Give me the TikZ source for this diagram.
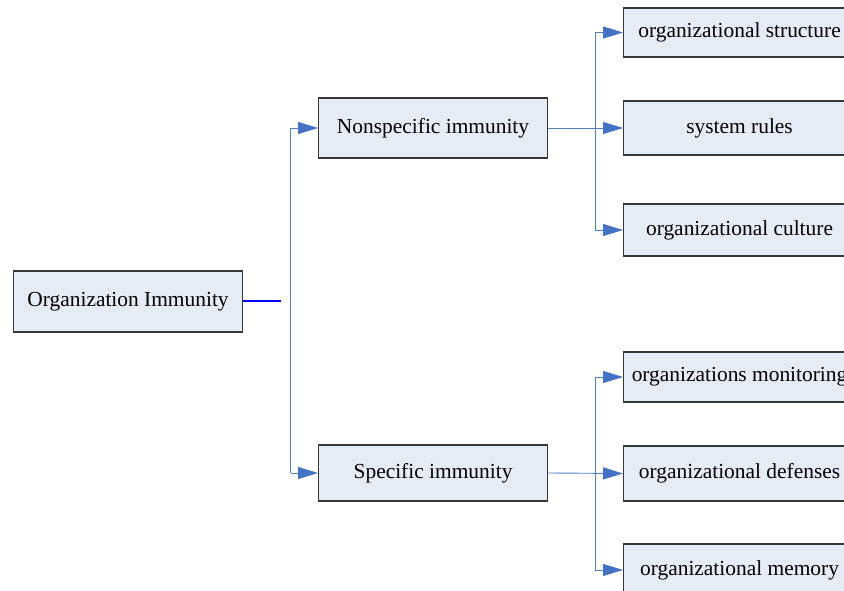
\documentclass[tikz,border=0pt]{standalone}
\usepackage{fontspec}
\setmainfont{Liberation Serif}
\usetikzlibrary{arrows.meta}
\definecolor{boxfill}{RGB}{230,236,246}
\definecolor{boxline}{RGB}{56,56,56}
\definecolor{linkblue}{RGB}{79,129,189}
\definecolor{tipblue}{RGB}{68,114,196}
\tikzset{
  box/.style={draw=boxline, fill=boxfill, line width=1.1bp, inner sep=0pt,
    minimum width=229bp, font=\fontsize{21.5}{24}\selectfont, anchor=west},
  leaf/.style={box, minimum width=232bp},
  conn/.style={draw=linkblue, line width=0.9bp,
    -{Triangle[length=20bp,width=12bp,fill=tipblue,color=tipblue]}},
  link/.style={draw=linkblue, line width=0.9bp},
}
\begin{document}
\begin{tikzpicture}[x=1bp,y=-1bp]
\useasboundingbox (0,0) rectangle (844,591);
\clip (0,0) rectangle (844,591);
\fill[white] (0,0) rectangle (844,591);

% root and its two branches
\node[box, minimum height=61bp] (root) at (13,301.5) {Organization Immunity};
\node[box, minimum height=60bp] (nonspec) at (318,128) {Nonspecific immunity};
\node[box, minimum height=56bp] (spec) at (318,473) {Specific immunity};

% leaves of the nonspecific branch
\node[leaf, minimum height=49bp] (s1) at (623,32.5) {organizational structure};
\node[leaf, minimum height=54bp] (s2) at (623,128) {system rules};
\node[leaf, minimum height=52bp] (s3) at (623,230) {organizational culture};

% leaves of the specific branch
\node[leaf, minimum height=50bp] (p1) at (623,377) {organizations monitoring};
\node[leaf, minimum height=55bp] (p2) at (623,473.5) {organizational defenses};
\node[leaf, minimum height=52bp] (p3) at (623,570) {organizational memory};

% junction points
\coordinate (rootend) at (281,301);
\coordinate (tA) at (290.5,128);
\coordinate (tB) at (290.5,473);
\coordinate (jN) at (595,128);
\coordinate (jS) at (595,473);

\draw[blue, line width=1.5bp] (root.east |- rootend) -- (rootend);
\draw[link] (tA) -- (tB);
\draw[conn] (tA) -- (nonspec.west);
\draw[conn] (tB) -- (spec.west);

\draw[conn] (nonspec.east) -- (s2.west);
\draw[conn] (jN) |- (s1.west);
\draw[conn] (jN) |- (s3.west);

\draw[conn] (spec.east) -- (p2.west);
\draw[conn] (jS) |- (p1.west);
\draw[conn] (jS) |- (p3.west);
\end{tikzpicture}
\end{document}
